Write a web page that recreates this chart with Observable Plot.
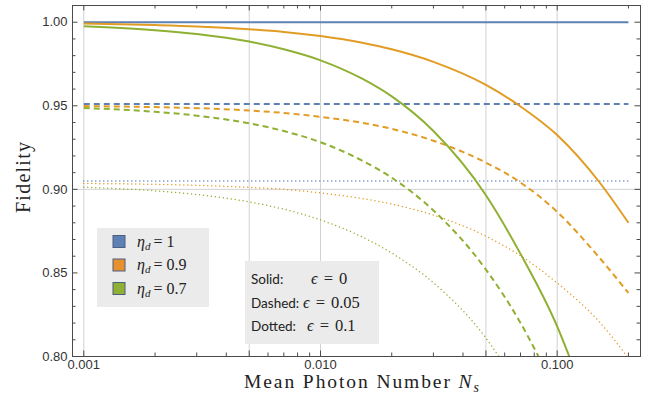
<!DOCTYPE html>
<html>
<head>
<meta charset="utf-8">
<script src="https://cdn.jsdelivr.net/npm/d3@7"></script>
<script src="https://cdn.jsdelivr.net/npm/@observablehq/plot@0.6"></script>
<style>
  body { margin: 0; background: #fff; }
  #chart { width: 658px; height: 405px; }
</style>
</head>
<body>
<div id="chart"></div>
<script>
// Mean photon number N_s at which each curve is sampled
const nGrid = [0.001, 0.002, 0.003, 0.005, 0.007, 0.01, 0.015, 0.02, 0.03, 0.05, 0.07, 0.1, 0.15, 0.2];
const nEnds = [0.001, 0.2];

// η_d = 1 : flat fidelity for each ε
const fEta1Solid  = [1.000, 1.000];
const fEta1Dashed = [0.951, 0.951];
const fEta1Dotted = [0.905, 0.905];

// η_d = 0.9
const fEta09Solid  = [0.9992, 0.9983, 0.9975, 0.9958, 0.9942, 0.9917, 0.9877, 0.9838, 0.9763, 0.9625, 0.9496, 0.9325, 0.9047, 0.880];
const fEta09Dashed = [0.9498, 0.9492, 0.9486, 0.9472, 0.9457, 0.9434, 0.9398, 0.9362, 0.9291, 0.916, 0.9041, 0.8865, 0.8595, 0.838];
const fEta09Dotted = [0.9035, 0.9030, 0.9024, 0.9012, 0.900, 0.8979, 0.8945, 0.8912, 0.8846, 0.872, 0.8602, 0.844, 0.821, 0.799];

// η_d = 0.7 (curves leave the plotted range before N_s = 0.2)
const nEta07Solid  = [0.001, 0.002, 0.003, 0.005, 0.007, 0.01, 0.015, 0.02, 0.03, 0.05, 0.07, 0.1, 0.1125];
const fEta07Solid  = [0.9976, 0.9952, 0.9929, 0.9884, 0.9838, 0.9772, 0.9662, 0.9556, 0.9349, 0.8965, 0.8614, 0.818, 0.800];
const nEta07Dashed = [0.001, 0.002, 0.003, 0.005, 0.007, 0.01, 0.015, 0.02, 0.03, 0.05, 0.07, 0.0836];
const fEta07Dashed = [0.9487, 0.9464, 0.9441, 0.9395, 0.9349, 0.9282, 0.9172, 0.907, 0.8874, 0.852, 0.8201, 0.7997];
const nEta07Dotted = [0.001, 0.002, 0.003, 0.005, 0.007, 0.01, 0.015, 0.02, 0.03, 0.05, 0.0567];
const fEta07Dotted = [0.9013, 0.8991, 0.8969, 0.8925, 0.8881, 0.8817, 0.8715, 0.8619, 0.8441, 0.811, 0.800];

const etaLabels = ["1", "0.9", "0.7"];
const etaColors = ["#5E81B5", "#E19C24", "#8FB032"];
const swatchColors = ["#5E81B5", "#E6902E", "#8FB032"];
const epsLabels = ["Solid:", "Dashed:", "Dotted:"];
const epsValues = ["0", "0.05", "0.1"];

// Axis ticks and grid
const xMajor = [0.001, 0.005, 0.01, 0.05, 0.1];
const xMinor = [0.002, 0.003, 0.004, 0.006, 0.007, 0.008, 0.009, 0.02, 0.03, 0.04, 0.06, 0.07, 0.08, 0.09, 0.2];
const yMajor = [0.80, 0.85, 0.90, 0.95, 1.00];
const yMinor = d3.range(81, 100).filter(v => v % 5 !== 0).map(v => v / 100);
const yGrid = [0.90];

function series(ns, fs, eta) {
  return ns.map((n, i) => ({N: n, F: fs[i], eta}));
}

const solidRows = [
  ...series(nEnds, fEta1Solid, "1"),
  ...series(nGrid, fEta09Solid, "0.9"),
  ...series(nEta07Solid, fEta07Solid, "0.7")
];
const dashedRows = [
  ...series(nEnds, fEta1Dashed, "1"),
  ...series(nGrid, fEta09Dashed, "0.9"),
  ...series(nEta07Dashed, fEta07Dashed, "0.7")
];
const dottedRows = [
  ...series(nEnds, fEta1Dotted, "1"),
  ...series(nGrid, fEta09Dotted, "0.9"),
  ...series(nEta07Dotted, fEta07Dotted, "0.7")
];

const W = 658, H = 405;
const mL = 72, mR = 18, mT = 5, mB = 49;
const frameW = W - mL - mR, frameH = H - mT - mB;
const axisColor = "#4a4a4a";
const sans = "'Liberation Sans', Arial, sans-serif";
const serif = "'Liberation Serif', 'DejaVu Serif', serif";

const lineOpts = {
  x: "N", y: "F", z: "eta", stroke: "eta",
  curve: "monotone-x", clip: true, strokeLinecap: "butt"
};

const chart = Plot.plot({
  width: W, height: H,
  marginLeft: mL, marginRight: mR, marginTop: mT, marginBottom: mB,
  style: {background: "#fff", color: "#333"},
  x: {type: "log", domain: [0.000896, 0.2249]},
  y: {domain: [0.80, 1.01]},
  color: {domain: etaLabels, range: etaColors},
  marks: [
    // grid
    Plot.ruleX(xMajor, {stroke: "#d2d2d2", strokeWidth: 1}),
    Plot.ruleY(yGrid, {stroke: "#d2d2d2", strokeWidth: 1}),
    // fidelity curves
    Plot.line(dottedRows, {...lineOpts, strokeWidth: 1.5, strokeDasharray: "0,4", strokeLinecap: "round"}),
    Plot.line(dashedRows, {...lineOpts, strokeWidth: 2, strokeDasharray: "6,4"}),
    Plot.line(solidRows, {...lineOpts, strokeWidth: 2}),
    // inward frame ticks: bottom, top, left, right
    Plot.ruleX(xMajor, {stroke: axisColor, insetTop: frameH - 5.5}),
    Plot.ruleX(xMinor, {stroke: axisColor, insetTop: frameH - 3.5}),
    Plot.ruleX(xMajor, {stroke: axisColor, insetBottom: frameH - 5.5}),
    Plot.ruleX(xMinor, {stroke: axisColor, insetBottom: frameH - 3.5}),
    Plot.ruleY(yMajor, {stroke: axisColor, insetRight: frameW - 5.5}),
    Plot.ruleY(yMinor, {stroke: axisColor, insetRight: frameW - 3.5}),
    Plot.ruleY(yMajor, {stroke: axisColor, insetLeft: frameW - 5.5}),
    Plot.ruleY(yMinor, {stroke: axisColor, insetLeft: frameW - 3.5}),
    Plot.frame({stroke: axisColor, strokeWidth: 1}),
    Plot.axisX(xMajor, {tickSize: 0, tickPadding: 3, tickFormat: d3.format(".3f"), label: null, fill: "#333"}),
    Plot.axisY(yMajor, {tickSize: 0, tickPadding: 5, tickFormat: d3.format(".2f"), label: null, fill: "#333"})
  ]
});

document.getElementById("chart").appendChild(chart);
const svg = d3.select(chart);

// tick label typeface
svg.selectAll("g[aria-label$='tick label']")
  .style("font-size", "13px").style("font-family", sans);

// axis titles
const titles = svg.append("g").attr("text-anchor", "start");
const xt = titles.append("text")
  .attr("x", 244).attr("y", 388)
  .attr("font-family", serif).attr("font-size", 19.5).attr("fill", "#222")
  .attr("textLength", 235).attr("lengthAdjust", "spacing");
xt.append("tspan").text("Mean Photon Number ");
xt.append("tspan").attr("font-style", "italic").text("N");
xt.append("tspan").attr("font-style", "italic").attr("font-size", 14).attr("dy", 4).text("s");

titles.append("text")
  .attr("transform", "translate(30,213) rotate(-90)")
  .attr("font-family", serif).attr("font-size", 20).attr("fill", "#222")
  .attr("textLength", 71).attr("lengthAdjust", "spacing")
  .text("Fidelity");

// η_d legend
const lg = svg.append("g").attr("text-anchor", "start");
lg.append("rect").attr("x", 97).attr("y", 228).attr("width", 112).attr("height", 79).attr("fill", "#ebebeb");
etaLabels.forEach((lab, i) => {
  const cy = 242 + i * 23.5;
  lg.append("rect")
    .attr("x", 113).attr("y", cy - 6.5).attr("width", 12).attr("height", 12)
    .attr("fill", swatchColors[i]).attr("stroke", "#4d5f80").attr("stroke-width", 1);
  const t = lg.append("text").attr("x", 137).attr("y", cy + 4.5)
    .attr("font-family", serif).attr("font-size", 16).attr("fill", "#222");
  t.append("tspan").attr("font-style", "italic").text("η");
  t.append("tspan").attr("font-style", "italic").attr("font-size", 11).attr("dy", 3).text("d");
  t.append("tspan").attr("dy", -3).attr("dx", 3).text("= " + lab);
});

// line style legend
const sg = svg.append("g").attr("text-anchor", "start");
sg.append("rect").attr("x", 245).attr("y", 261).attr("width", 134).attr("height", 83).attr("fill", "#ebebeb");
const epsX = [311, 303, 307];
epsLabels.forEach((lab, i) => {
  const by = 284 + i * 23.7;
  sg.append("text").attr("x", 251).attr("y", by)
    .attr("font-family", "Lato, 'Open Sans', sans-serif").attr("font-size", 13.5).attr("fill", "#222")
    .text(lab);
  const t = sg.append("text").attr("x", epsX[i]).attr("y", by)
    .attr("font-family", serif).attr("font-size", 16.5).attr("fill", "#222");
  t.append("tspan").attr("font-style", "italic").text("ϵ");
  t.append("tspan").attr("dx", 6).text("=");
  t.append("tspan").attr("dx", 6).text(epsValues[i]);
});
</script>
</body>
</html>
